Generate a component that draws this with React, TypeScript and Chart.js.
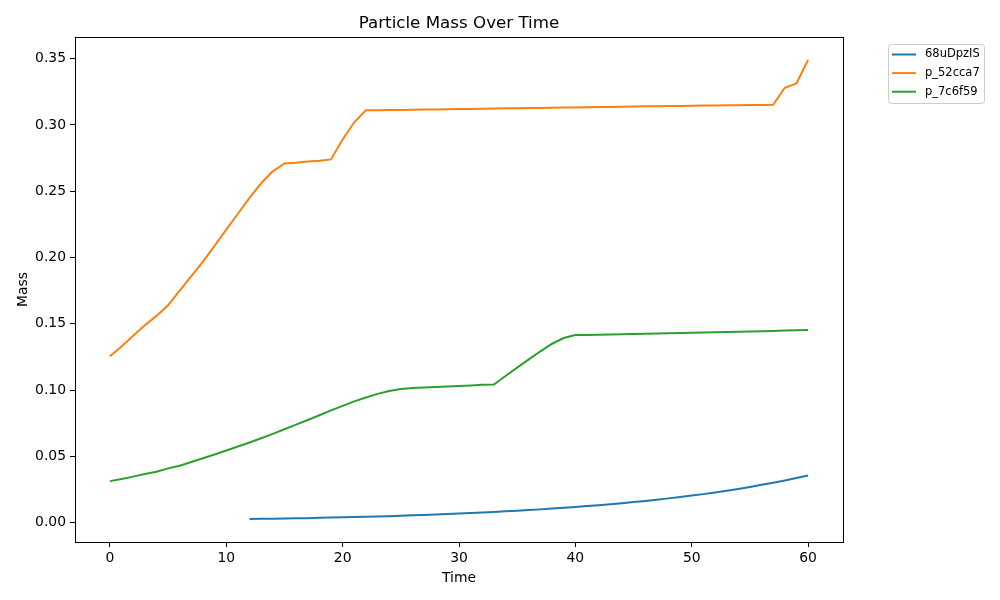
import React, { useEffect, useRef } from 'react';
import { Chart, registerables } from 'chart.js';

Chart.register(...registerables);

const chartTitle = 'Particle Mass Over Time';
const xTitle = 'Time';
const yTitle = 'Mass';

const timeSteps = [
  0, 1, 2, 3, 4, 5, 6, 7, 8, 9, 10, 11, 12, 13, 14, 15, 16, 17, 18, 19, 20,
  21, 22, 23, 24, 25, 26, 27, 28, 29, 30, 31, 32, 33, 34, 35, 36, 37, 38, 39, 40,
  41, 42, 43, 44, 45, 46, 47, 48, 49, 50, 51, 52, 53, 54, 55, 56, 57, 58, 59, 60,
];

const seriesLabels = ['68uDpzIS', 'p_52cca7', 'p_7c6f59'];
const seriesColors = ['#1f77b4', '#ff7f0e', '#2ca02c'];

// 68uDpzIS starts at t = 12
const firstTime68 = 12;
const mass68 = [
  0.0029, 0.0030, 0.0031, 0.0032, 0.0034, 0.0035, 0.0037, 0.0039, 0.0041,
  0.0043, 0.0045, 0.0048, 0.0050, 0.0053, 0.0056, 0.0059, 0.0062, 0.0066,
  0.0069, 0.0073, 0.0077, 0.0081, 0.0086, 0.0091, 0.0096, 0.0101, 0.0107,
  0.0113, 0.0119, 0.0126, 0.0133, 0.0140, 0.0148, 0.0156, 0.0165, 0.0174,
  0.0184, 0.0194, 0.0205, 0.0216, 0.0228, 0.0241, 0.0255, 0.0270, 0.0286,
  0.0302, 0.0319, 0.0337, 0.0357,
];

const mass52 = [
  0.1255, 0.133, 0.141, 0.149, 0.156, 0.164, 0.175, 0.186, 0.197, 0.209, 0.221,
  0.233, 0.245, 0.256, 0.265, 0.271, 0.2715, 0.2725, 0.273, 0.274, 0.289,
  0.302, 0.311, 0.3111, 0.3112, 0.3113, 0.3115, 0.3116, 0.3117, 0.3118, 0.3120,
  0.3121, 0.3122, 0.3123, 0.3125, 0.3126, 0.3127, 0.3128, 0.3130, 0.3131, 0.3132,
  0.3133, 0.3135, 0.3136, 0.3137, 0.3138, 0.3140, 0.3141, 0.3142, 0.3143, 0.3145,
  0.3146, 0.3147, 0.3148, 0.3149, 0.3150, 0.3151, 0.3152, 0.328, 0.3313, 0.349,
];

const mass7c = [
  0.0314, 0.0330, 0.0348, 0.0368, 0.0385, 0.0410, 0.0430, 0.0458, 0.0487, 0.0515,
  0.0545, 0.0575, 0.0605, 0.0637, 0.0670, 0.0705, 0.0740, 0.0775, 0.0811, 0.0847,
  0.0882, 0.0915, 0.0945, 0.0972, 0.0994, 0.1008, 0.1017, 0.1020, 0.1024, 0.1028,
  0.1032, 0.1036, 0.1040, 0.1043, 0.1107, 0.1170, 0.1232, 0.1293, 0.1350, 0.1393,
  0.1415, 0.1415, 0.1417, 0.1419, 0.1421, 0.1423, 0.1425, 0.1427, 0.1429, 0.1431,
  0.1433, 0.1435, 0.1437, 0.1439, 0.1441, 0.1443, 0.1445, 0.1447, 0.1449, 0.1451,
  0.1453,
];

const xTicks = [0, 10, 20, 30, 40, 50, 60];
const yTicks = [0, 0.05, 0.1, 0.15, 0.2, 0.25, 0.3, 0.35];

const FONT = '"DejaVu Sans", sans-serif';

const decorPlugin = {
  id: 'decor',
  afterDraw(chart: any) {
    const { ctx, chartArea: a } = chart;
    ctx.save();
    // spines
    ctx.strokeStyle = '#000';
    ctx.lineWidth = 1;
    const l = Math.round(a.left) + 0.5;
    const t = Math.round(a.top) + 0.5;
    ctx.strokeRect(l, t, Math.round(a.right) - Math.round(a.left), Math.round(a.bottom) - Math.round(a.top));
    // title
    ctx.fillStyle = '#000';
    ctx.font = `16.7px ${FONT}`;
    ctx.textAlign = 'center';
    ctx.textBaseline = 'middle';
    ctx.fillText(chartTitle, (a.left + a.right) / 2, 23.5);
    // legend
    const bx = 888.5, by = 44.5, bw = 96, bh = 59, r = 3;
    ctx.beginPath();
    ctx.moveTo(bx + r, by);
    ctx.lineTo(bx + bw - r, by);
    ctx.quadraticCurveTo(bx + bw, by, bx + bw, by + r);
    ctx.lineTo(bx + bw, by + bh - r);
    ctx.quadraticCurveTo(bx + bw, by + bh, bx + bw - r, by + bh);
    ctx.lineTo(bx + r, by + bh);
    ctx.quadraticCurveTo(bx, by + bh, bx, by + bh - r);
    ctx.lineTo(bx, by + r);
    ctx.quadraticCurveTo(bx, by, bx + r, by);
    ctx.closePath();
    ctx.fillStyle = 'rgba(255,255,255,0.8)';
    ctx.fill();
    ctx.strokeStyle = '#cccccc';
    ctx.stroke();
    ctx.font = `11.5px ${FONT}`;
    ctx.textAlign = 'left';
    ctx.textBaseline = 'middle';
    chart.data.datasets.forEach((ds: any, i: number) => {
      const y = 54.5 + i * 18.6;
      ctx.strokeStyle = ds.borderColor;
      ctx.lineWidth = 2;
      ctx.beginPath();
      ctx.moveTo(892, y);
      ctx.lineTo(916, y);
      ctx.stroke();
      ctx.fillStyle = '#000';
      ctx.fillText(ds.label, 925, y);
    });
    ctx.restore();
  },
};

export default function App() {
  const canvasRef = useRef<HTMLCanvasElement | null>(null);

  useEffect(() => {
    if (!canvasRef.current) return;
    const toPoints = (times: number[], vals: number[]) => vals.map((v, i) => ({ x: times[i], y: v }));
    const times68 = timeSteps.filter((t) => t >= firstTime68);
    const allSeries = [toPoints(times68, mass68), toPoints(timeSteps, mass52), toPoints(timeSteps, mass7c)];

    const chart = new Chart(canvasRef.current, {
      type: 'line',
      data: {
        datasets: allSeries.map((pts, i) => ({
          label: seriesLabels[i],
          data: pts,
          borderColor: seriesColors[i],
          backgroundColor: seriesColors[i],
          borderWidth: 2,
          pointRadius: 0,
          tension: 0,
          fill: false,
        })),
      },
      options: {
        animation: false,
        responsive: true,
        maintainAspectRatio: false,
        layout: { padding: { left: 0, right: 157, top: 37, bottom: 0 } },
        plugins: {
          legend: { display: false },
          title: { display: false },
          tooltip: { enabled: false },
        },
        scales: {
          x: {
            type: 'linear',
            min: -3,
            max: 63,
            afterFit: (s: any) => { s.height = 58; },
            afterBuildTicks: (s: any) => { s.ticks = xTicks.map((v) => ({ value: v })); },
            border: { display: false },
            grid: { drawOnChartArea: false, drawTicks: true, tickLength: 5, color: '#000', lineWidth: 1 },
            ticks: {
              color: '#000',
              font: { family: FONT, size: 13.9 },
              padding: 3,
              maxRotation: 0,
              callback: (v: any) => String(v),
            },
            title: {
              display: true,
              text: xTitle,
              color: '#000',
              font: { family: FONT, size: 13.9 },
              padding: { top: 0, bottom: 13 },
            },
          },
          y: {
            type: 'linear',
            min: -0.0145,
            max: 0.3663,
            afterFit: (s: any) => { s.width = 75; },
            afterBuildTicks: (s: any) => { s.ticks = yTicks.map((v) => ({ value: v })); },
            border: { display: false },
            grid: { drawOnChartArea: false, drawTicks: true, tickLength: 5, color: '#000', lineWidth: 1 },
            ticks: {
              color: '#000',
              font: { family: FONT, size: 13.9 },
              padding: 4,
              callback: (v: any) => Number(v).toFixed(2),
            },
            title: {
              display: true,
              text: yTitle,
              color: '#000',
              font: { family: FONT, size: 13.9 },
              padding: { top: 15, bottom: 0 },
            },
          },
        },
      },
      plugins: [decorPlugin],
    });
    return () => chart.destroy();
  }, []);

  return (
    <div style={{ position: 'absolute', left: 0, top: 0, width: 1000, height: 600, background: '#fff' }}>
      <canvas ref={canvasRef} />
    </div>
  );
}
